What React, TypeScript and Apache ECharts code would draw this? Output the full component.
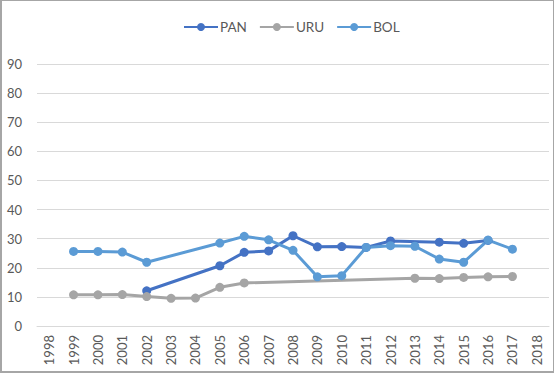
import React, { useEffect, useRef } from "react";
import * as echarts from "echarts";

const years = ["1998","1999","2000","2001","2002","2003","2004","2005","2006","2007","2008","2009","2010","2011","2012","2013","2014","2015","2016","2017","2018"];
const pan = [null,null,null,null,12.1,null,null,20.7,25.3,25.8,31.0,27.2,27.3,27.0,29.2,null,28.8,28.4,29.4,null,null];
const uru = [null,10.7,10.7,10.8,10.1,9.5,9.6,13.3,14.8,null,null,null,null,null,null,16.4,16.3,16.7,16.9,17.0,null];
const bol = [null,25.6,25.6,25.4,21.9,null,null,28.5,30.8,29.6,26.0,16.9,17.3,27.0,27.6,27.4,23.0,21.9,29.5,26.4,null];

export default function App() {
  const ref = useRef<HTMLDivElement>(null);
  useEffect(() => {
    const chart = echarts.init(ref.current!, null, { renderer: "svg" });
    const mk = (name: string, data: (number | null)[], color: string) => ({
      name, type: "line", data, connectNulls: true,
      symbol: "circle", symbolSize: 9,
      lineStyle: { width: 3, color }, itemStyle: { color },
    });
    chart.setOption({
      animation: false,
      textStyle: { fontFamily: "Lato, 'Open Sans', sans-serif" },
      legend: {
        top: 15, left: 178, itemWidth: 34, itemHeight: 10, itemGap: 12,
        textStyle: { fontSize: 13.5, color: "#595959", padding: [0, 0, 0, -3] },
        data: ["PAN", "URU", "BOL"],
      },
      grid: { left: 37, right: 7, top: 64, bottom: 49 },
      xAxis: {
        type: "category", data: years, boundaryGap: true,
        axisLine: { lineStyle: { color: "#d9d9d9" } },
        axisTick: { show: false },
        axisLabel: { rotate: 90, fontSize: 13, color: "#595959", margin: 9, interval: 0 },
      },
      yAxis: {
        type: "value", min: 0, max: 90, interval: 10,
        axisLine: { show: false }, axisTick: { show: false },
        axisLabel: { fontSize: 13, color: "#595959", margin: 15 },
        splitLine: { lineStyle: { color: "#d9d9d9" } },
      },
      series: [
        mk("PAN", pan, "#4472C4"),
        mk("URU", uru, "#A5A5A5"),
        mk("BOL", bol, "#5B9BD5"),
      ],
    });
    return () => chart.dispose();
  }, []);
  return (
    <div style={{ position: "absolute", left: 0, top: 0, width: 556, height: 375, background: "#fff" }}>
      <div style={{ position: "absolute", left: 0, top: 0, width: 551, height: 370, border: "1px solid #a6a6a6", borderLeftWidth: 2, borderBottomWidth: 2 }} />
      <div ref={ref} style={{ position: "absolute", left: 0, top: 0, width: 556, height: 375 }} />
    </div>
  );
}
